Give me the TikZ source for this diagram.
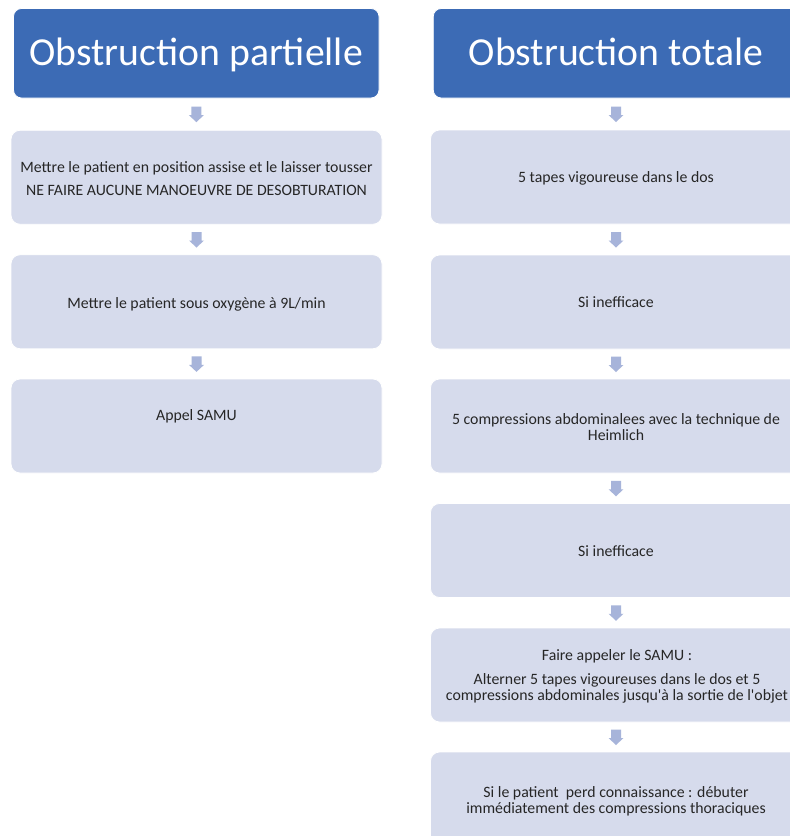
\documentclass[tikz,border=0pt]{standalone}
\usepackage{fontspec}
\setmainfont{Carlito}[Ligatures=TeXOff]
\usetikzlibrary{calc}
\definecolor{hdrblue}{HTML}{3C6BB5}
\definecolor{boxfill}{HTML}{D6DBEC}
\definecolor{arrowfill}{HTML}{A7B4DA}
\definecolor{txtgray}{HTML}{262626}
\newcommand\flowarrow[2]{%
  \fill[arrowfill] ($(#1.south)!0.5!(#2.north)$) ++(-5,-7.5) -- ++(10,0) -- ++(0,8.5) -- ++(2.5,0)
    -- ++(-7.5,7) -- ++(-7.5,-7) -- ++(2.5,0) -- cycle;}
\begin{document}
\begin{tikzpicture}[x=1pt,y=-1pt,
  header/.style={draw=white, line width=0.8pt, fill=hdrblue, rounded corners=8pt,
    minimum width=365.5pt, minimum height=89.5pt, inner sep=0pt},
  stepbox/.style={draw=white, line width=0.8pt, fill=boxfill, rounded corners=9pt,
    minimum width=371pt, minimum height=94pt, inner sep=0pt},
  hdrtext/.style={text=white, font=\fontsize{39.7}{48}\selectfont, anchor=base, inner sep=0pt},
  bodytext/.style={text=txtgray, font=\fontsize{15.8}{16}\selectfont, align=center, inner sep=0pt},
]
\useasboundingbox (0,0) rectangle (790,836);
\fill[white] (0,0) rectangle (790,836);
\clip (0,0) rectangle (790,836);

% headers
\node[header] (hL) at (196.25,53.25) {};
\node[header] (hR) at (616,53.25) {};
\node[hdrtext] (hLt) at (196.25,65) {Obstruction partielle};
\node[hdrtext] (hRt) at (616,65) {Obstruction totale};

% left column
\node[stepbox] (l1) at (196.5,177.25) {};
\node[stepbox] (l2) at (196.5,301.75) {};
\node[stepbox] (l3) at (196.5,426) {};
\node[bodytext] (l1t) at (196.5,179) {Mettre le patient en position assise et le laisser tousser\\[7pt]NE FAIRE AUCUNE MANOEUVRE DE DESOBTURATION};
\node[bodytext] (l2t) at (196.5,304.5) {Mettre le patient sous oxygène à 9L/min};
\node[bodytext] (l3t) at (196.5,416) {Appel SAMU};

% right column
\node[stepbox] (r1) at (616,177) {};
\node[stepbox] (r2) at (616,302) {};
\node[stepbox] (r3) at (616,426) {};
\node[stepbox] (r4) at (616,550.5) {};
\node[stepbox] (r5) at (616,675) {};
\node[stepbox] (r6) at (616,799) {};
\node[bodytext] (r1t) at (616,178.5) {5 tapes vigoureuse dans le dos};
\node[bodytext] (r2t) at (616,302.5) {Si inefficace};
\node[bodytext] (r3t) at (616,427.5) {5 compressions abdominalees avec la technique de\\Heimlich};
\node[bodytext] (r4t) at (616,551.5) {Si inefficace};
\node[bodytext] (r5t) at (617,676) {Faire appeler le SAMU :\\[8pt]Alterner 5 tapes vigoureuses dans le dos et 5\\compressions abdominales jusqu'à la sortie de l'objet};
\node[bodytext] (r6t) at (616,801.5) {Si le patient\ \ perd connaissance : débuter\\immédiatement des compressions thoraciques};

% arrows
\flowarrow{hL}{l1}
\flowarrow{l1}{l2}
\flowarrow{l2}{l3}
\flowarrow{hR}{r1}
\flowarrow{r1}{r2}
\flowarrow{r2}{r3}
\flowarrow{r3}{r4}
\flowarrow{r4}{r5}
\flowarrow{r5}{r6}
\end{tikzpicture}
\end{document}
